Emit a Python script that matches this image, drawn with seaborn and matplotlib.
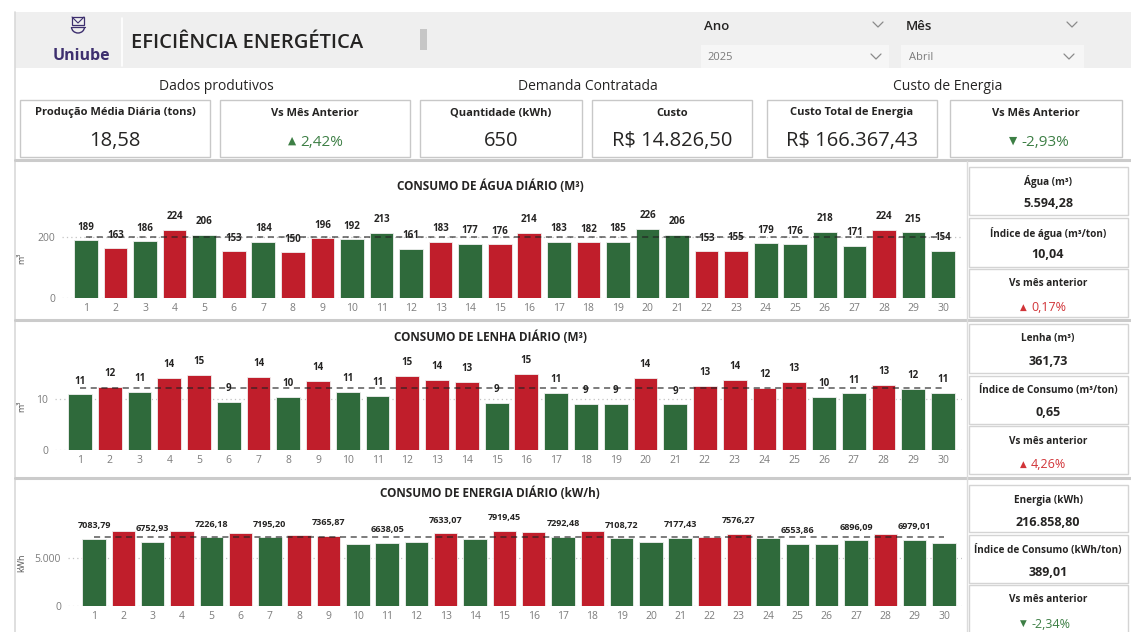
import matplotlib
matplotlib.use("Agg")
import matplotlib.pyplot as plt
import seaborn as sns
import pandas as pd
from matplotlib.patches import Rectangle, Arc
from matplotlib.lines import Line2D

# Dados do painel (abril/2025)
dias = [str(d) for d in range(1, 31)]

agua = [189, 163, 186, 224, 206, 153, 184, 150, 196, 192, 213, 161, 183, 177, 176,
        214, 183, 182, 185, 226, 206, 153, 155, 179, 176, 218, 171, 224, 215, 154]
agua_cor = list("GRGRGRGRRGGGRGRRGRGGGRRGGGGRGG")
agua_ref = 201.5

lenha = [10.89, 12.45, 11.47, 14.21, 14.80, 9.39, 14.34, 10.37, 13.55, 11.40,
         10.56, 14.55, 13.69, 13.36, 9.30, 14.99, 11.15, 9.06, 9.00, 14.15,
         8.93, 12.55, 13.82, 12.19, 13.43, 10.37, 11.08, 12.84, 11.93, 11.21]
lenha_cor = list("GRGRRGRGRGGRRRGRGGGRGRRRRGGRGG")
lenha_ref = 12.06

energia = [7083.79, 7887, 6752.93, 7887, 7226.18, 7644, 7195.20, 7505, 7365.87, 6497,
           6638.05, 6741, 7633.07, 7053, 7919.45, 7748, 7292.48, 7853, 7108.72, 6671,
           7177.43, 7297, 7576.27, 7123, 6553.86, 6532, 6896.09, 7575, 6979.01, 6637]
energia_cor = list("GRGRGRGRRGGGRGRRGRGGGRRGGGGRGG")
energia_ref = 7228.63

kpis = [
    ("Produção Média Diária (tons)", "18,58"),
    ("Vs Mês Anterior", "2,42%"),
    ("Quantidade (kWh)", "650"),
    ("Custo", "R$ 14.826,50"),
    ("Custo Total de Energia", "R$ 166.367,43"),
    ("Vs Mês Anterior", "-2,93%"),
]

VERDE = "#2f6a3b"
VERMELHO = "#c01e2b"
TXT = "#252423"

sns.set_theme(style="white")
plt.rcParams["font.family"] = ["Open Sans", "DejaVu Sans"]

W, H = 1131, 632
fig = plt.figure(figsize=(W / 100, H / 100), dpi=100)
fig.patch.set_facecolor("white")


def fx(x):
    return x / W


def fy(y):
    return 1 - y / H


def caixa(x0, y0, x1, y1, face="white", edge="#d4d4d4", lw=1.0):
    fig.add_artist(Rectangle((fx(x0), fy(y1)), (x1 - x0) / W, (y1 - y0) / H,
                             transform=fig.transFigure, facecolor=face,
                             edgecolor=edge, linewidth=lw, zorder=-1))


def linha(xs, ys, color="#cfcfcf", lw=1.0, ls="-"):
    fig.add_artist(Line2D([fx(x) for x in xs], [fy(y) for y in ys],
                          transform=fig.transFigure, color=color, linewidth=lw, linestyle=ls))


def texto(x, y, s, size, weight="normal", color=TXT, ha="center"):
    fig.text(fx(x), fy(y), s, fontsize=size, fontweight=weight, color=color,
             ha=ha, va="center")


def chevron(x, y):
    linha([x - 5, x, x + 5], [y - 3, y + 2, y - 3], color="#8a8a8a", lw=0.9)


def delta(xt, y, s, up, color, size):
    texto(xt - 4, y - 1, "▲" if up else "▼", size * 0.7, color=color, ha="right")
    texto(xt, y, s, size, color=color, ha="left")


# ---------- cabeçalho ----------
caixa(15, 12, 1131, 68, face="#efefef", edge="none")
linha([15, 15], [12, 632], color="#d9d9d9", lw=1.2)

# logo
roxo = "#3d2f6e"
fig.add_artist(Rectangle((fx(72), fy(25)), 12 / W, 8 / H, transform=fig.transFigure,
                         facecolor="none", edgecolor=roxo, linewidth=0.9))
linha([72, 78, 84], [17, 23, 17], color=roxo, lw=0.8)
fig.add_artist(Arc((fx(78), fy(27)), 13 / W, 12 / H, theta1=180, theta2=360,
                   transform=fig.transFigure, color=roxo, linewidth=1.0))
linha([71.5, 84.5], [27, 27], color=roxo, lw=0.9)
texto(81, 56, "Uniube", 11.5, weight="bold", color=roxo)
linha([122, 122], [18, 66], color="white", lw=1.2)

texto(131, 43, "EFICIÊNCIA ENERGÉTICA", 14.5, weight="semibold", ha="left")
caixa(420, 29, 427, 50, face="#c6c6c6", edge="none")

# filtros
texto(704, 26, "Ano", 9.5, weight="semibold", ha="left")
chevron(878, 25)
caixa(701, 45, 889, 68, face="#f6f6f6", edge="none")
texto(707, 57, "2025", 8, color="#7a7a7a", ha="left")
chevron(876, 57)
texto(906, 26, "Mês", 9.5, weight="semibold", ha="left")
chevron(1072, 25)
caixa(901, 45, 1084, 68, face="#f6f6f6", edge="none")
texto(909, 57, "Abril", 8, color="#7a7a7a", ha="left")
chevron(1069, 57)

# ---------- KPIs ----------
texto(216, 86, "Dados produtivos", 10)
texto(588, 86, "Demanda Contratada", 10)
texto(948, 86, "Custo de Energia", 10)

cards_x = [(20, 210), (220, 410), (420, 582), (592, 752), (767, 937), (950, 1122)]
for (x0, x1), (tit, val) in zip(cards_x, kpis):
    caixa(x0, 100, x1, 157, edge="#c8c8c8")
    xc = (x0 + x1) / 2
    texto(xc, 113, tit, 8, weight="bold")
    if tit.startswith("Vs"):
        up = not val.startswith("-")
        delta(xc - 15, 142, val, up, "#3d7f45", 11)
    else:
        texto(xc, 141, val, 14.5)

linha([15, 1131], [160, 160], color="#cbcbcb", lw=2.2)
linha([15, 1131], [320, 320], color="#cbcbcb", lw=2.2)
linha([15, 1131], [478, 478], color="#cbcbcb", lw=2.2)
linha([967, 967], [161, 632], color="#dcdcdc", lw=1.0)


# ---------- gráficos ----------
def grafico(valores, cores, ref, rot_y, yticks, ytl, ytop, px_un, base, left, c1, c30,
            titulo, ty, fmt, tam_rot, so_impares=False):
    right = 962
    sp = (c30 - c1) / 29
    top = base - ytop * px_un
    ax = fig.add_axes([fx(left), fy(base), (right - left) / W, (base - top) / H])
    ax.patch.set_alpha(0)
    df = pd.DataFrame({"dia": dias, "valor": valores})
    pal = {d: (VERDE if c == "G" else VERMELHO) for d, c in zip(dias, cores)}
    sns.barplot(data=df, x="dia", y="valor", hue="dia", palette=pal, legend=False,
                width=0.8, errorbar=None, edgecolor="#f0f0f0", linewidth=0.6,
                saturation=1, ax=ax)
    ax.hlines(ref, 0, 29, colors="#222222", linestyles=(0, (4, 3)), linewidth=1.1,
              alpha=0.75, zorder=3)
    for i, v in enumerate(valores):
        if so_impares and i % 2 == 1:
            continue
        ax.annotate(fmt(v), (i, v), xytext=(0, 9.5), textcoords="offset points",
                    ha="center", va="center", fontsize=tam_rot, fontweight="bold",
                    color="#252423", annotation_clip=False, zorder=4)
    ax.set_xlim(-(c1 - left) / sp, 29 + (right - c30) / sp)
    ax.set_ylim(0, ytop)
    ax.set_yticks(yticks)
    ax.set_yticklabels(ytl)
    ax.yaxis.grid(True, linestyle=(0, (1, 2.5)), color="#c4c4c4", linewidth=0.9)
    ax.xaxis.grid(False)
    ax.set_axisbelow(True)
    sns.despine(ax=ax, left=True, bottom=True)
    ax.tick_params(axis="both", length=0, labelsize=7.5, labelcolor="#7c7c7c")
    ax.tick_params(axis="y", pad=5)
    ax.tick_params(axis="x", pad=3.5)
    ax.set_xlabel("")
    ax.set_ylabel(rot_y, fontsize=6.5, color="#555555")
    ax.yaxis.set_label_coords((26 - left) / (right - left), 0.5)
    texto(490, ty, titulo, 8.5, weight="bold")
    return ax


grafico(agua, agua_cor, agua_ref, "m³", [0, 200], ["0", "200"], 260, 0.305, 298,
        62, 86, 943, "CONSUMO DE ÁGUA DIÁRIO (M³)", 186, lambda v: f"{v:.0f}", 7)
grafico(lenha, lenha_cor, lenha_ref, "m³", [0, 10], ["0", "10"], 17, 5.1, 450,
        55, 80, 943, "CONSUMO DE LENHA DIÁRIO (M³)", 337, lambda v: f"{v:.0f}", 7)
grafico(energia, energia_cor, energia_ref, "kWh", [0, 5000], ["0", "5.000"], 9000,
        0.00948, 605.7, 68, 94, 944, "CONSUMO DE ENERGIA DIÁRIO (kW/h)", 493,
        lambda v: f"{v:.2f}".replace(".", ","), 6.5, so_impares=True)

# ---------- cartões laterais ----------
laterais = [
    (167, 215, "Água (m³)", "5.594,28", None),
    (218, 267, "Índice de água (m³/ton)", "10,04", None),
    (269, 317, "Vs mês anterior", "0,17%", (True, "#d13438")),
    (324, 373, "Lenha (m³)", "361,73", None),
    (376, 424, "Índice de Consumo (m³/ton)", "0,65", None),
    (426, 474, "Vs mês anterior", "4,26%", (True, "#d13438")),
    (485, 532, "Energia (kWh)", "216.858,80", None),
    (535, 583, "Índice de Consumo (kWh/ton)", "389,01", None),
    (585, 640, "Vs mês anterior", "-2,34%", (False, "#3d7f45")),
]
for y0, y1, tit, val, dl in laterais:
    caixa(969, y0, 1128, y1, edge="#d4d4d4")
    texto(1048, y0 + 15, tit, 7.2, weight="bold")
    if dl is None:
        texto(1048, y0 + 37, val, 9, weight="bold")
    else:
        delta(1031, y0 + 39, val, dl[0], dl[1], 9)

fig.savefig("out.png", dpi=100)
